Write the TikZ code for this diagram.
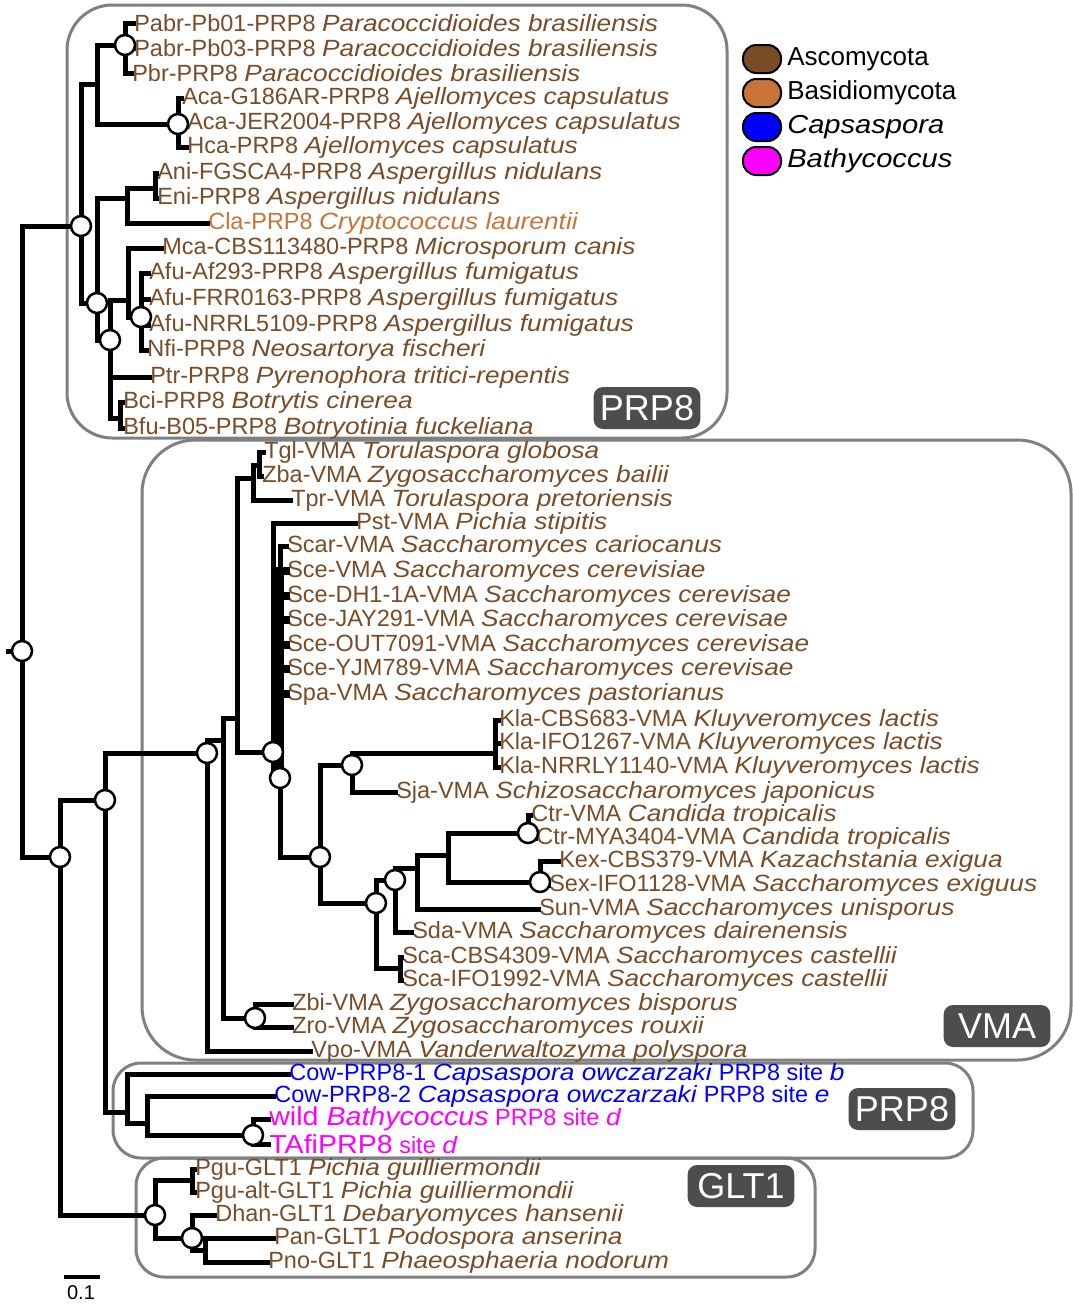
\documentclass[tikz,border=0pt]{standalone}
\usepackage{fontspec}
\setmainfont{Liberation Sans}[ItalicFeatures={FakeStretch=1.12}]
\newfontfamily\widesans{Liberation Sans}[FakeStretch=1.1]
\definecolor{asco}{RGB}{122,76,38}
\definecolor{basid}{RGB}{200,116,56}
\definecolor{capsa}{RGB}{0,0,255}
\definecolor{bathy}{RGB}{255,0,255}
\definecolor{frame}{RGB}{128,128,128}
\definecolor{tagc}{RGB}{77,77,77}

\begin{document}
\begin{tikzpicture}[x=0.75pt, y=-0.75pt,
	tree/.style={line width=3.75pt, line cap=rect, line join=miter},
	bundle/.style={tree, line width=5.5pt},
	bs/.style={circle, draw, fill=white, line width=1.9pt, minimum size=15pt, inner sep=0pt},
	lab/.style={inner sep=0.8pt, anchor=west, font=\fontsize{17.6}{20}\selectfont},
	big/.style={font=\fontsize{19.5}{21}\widesans},
	group/.style={draw=frame, line width=2.25pt},
	tag/.style={fill=tagc, text=white, rounded corners=7pt, minimum width=80pt, minimum height=31.5pt, inner sep=2pt, font=\fontsize{27}{30}\selectfont},
	key/.style={draw, line width=1.5pt, rounded corners=10pt, minimum width=28.5pt, minimum height=21pt, inner sep=0pt},
	keytext/.style={anchor=west, inner sep=0pt, font=\fontsize{19.5}{22}\selectfont}]

% Just a workaround to keep the margins of the figure
\fill[white] (0,0) rectangle (1073,1304);
\useasboundingbox (0,0) rectangle (1073,1304);

% Group frames
\draw[group, rounded corners=34pt] (67,5) rectangle (727,438);
\draw[group, rounded corners=40pt] (142,440) rectangle (1071,1060);
\draw[group, rounded corners=21pt] (113,1063) rectangle (973,1158);
\draw[group, rounded corners=21pt] (136,1158) rectangle (815,1277);

% Macros
\newcommand{\clade}[2]{
	\coordinate (#1) at (#2);
}
\newcommand{\taxon}[4]{
	\node[lab, text=#4] (#1) at (#2) {#3};
}
\newcommand{\branch}[2]{
	\draw[tree] (#1) |- (#2);
}
\newcommand{\leaf}[2]{
	\draw[tree] (#1) |- (#2.west);
}
\newcommand{\boot}[1]{
	\node[bs] (#1-bs) at (#1) {};
}

% Inner nodes
\clade {R0}  {22,651}
\clade {R0s} {8,651}
\clade {A}   {81,226}
\clade {A1}  {97,84}
\clade {Pb}  {125,45}
\clade {Aj}  {178,124}
\clade {B}   {97,303}
\clade {C}   {127,198}
\clade {C1}  {155,188}
\clade {D}   {110,340}
\clade {E}   {128,300}
\clade {F}   {141,317}
\clade {Bo}  {120,418}
\clade {G}   {60,857}
\clade {H}   {105,800}
\clade {I}   {207,753}
\clade {J}   {223,740}
\clade {K}   {237,718}
\clade {Tz}  {253,478}
\clade {Tg}  {259,465}
\clade {L}   {273,752}
\clade {M}   {280,778}
\clade {N}   {320,857}
\clade {O}   {352,765}
\clade {Kl}  {495,753}
\clade {P}   {376,903}
\clade {Q}   {395,880}
\clade {Q1}  {417,868}
\clade {Q2}  {448,855}
\clade {Ct}  {528,833}
\clade {Kx}  {540,882}
\clade {Sc}  {400,968}
\clade {Zb}  {255,1018}
\clade {Pr}  {127,1112}
\clade {Pr2} {147,1123}
\clade {Bt}  {253,1135}
\clade {Gl}  {155,1215}
\clade {Pg}  {192,1180}
\clade {Rn}  {192,1238}
\clade {Rn2} {205,1250}

% Taxa
\taxon {l1}  {133,23}  {Pabr-Pb01-PRP8 \textit{Paracoccidioides brasiliensis}} {asco}
\taxon {l2}  {133,48}  {Pabr-Pb03-PRP8 \textit{Paracoccidioides brasiliensis}} {asco}
\taxon {l3}  {131,73}  {Pbr-PRP8 \textit{Paracoccidioides brasiliensis}} {asco}
\taxon {l4}  {181,98}  {Aca-G186AR-PRP8 \textit{Ajellomyces capsulatus}} {asco}
\taxon {l5}  {186,123} {Aca-JER2004-PRP8 \textit{Ajellomyces capsulatus}} {asco}
\taxon {l6}  {186,147} {Hca-PRP8 \textit{Ajellomyces capsulatus}} {asco}
\taxon {l7}  {156,173} {Ani-FGSCA4-PRP8 \textit{Aspergillus nidulans}} {asco}
\taxon {l8}  {156,198} {Eni-PRP8 \textit{Aspergillus nidulans}} {asco}
\taxon {l9}  {207,223} {Cla-PRP8 \textit{Cryptococcus laurentii}} {basid}
\taxon {l10} {161,248} {Mca-CBS113480-PRP8 \textit{Microsporum canis}} {asco}
\taxon {l11} {148,273} {Afu-Af293-PRP8 \textit{Aspergillus fumigatus}} {asco}
\taxon {l12} {148,299} {Afu-FRR0163-PRP8 \textit{Aspergillus fumigatus}} {asco}
\taxon {l13} {148,325} {Afu-NRRL5109-PRP8 \textit{Aspergillus fumigatus}} {asco}
\taxon {l14} {146,350} {Nfi-PRP8 \textit{Neosartorya fischeri}} {asco}
\taxon {l15} {149,377} {Ptr-PRP8 \textit{Pyrenophora tritici-repentis}} {asco}
\taxon {l16} {122,402} {Bci-PRP8 \textit{Botrytis cinerea}} {asco}
\taxon {l17} {122,428} {Bfu-B05-PRP8 \textit{Botryotinia fuckeliana}} {asco}

\taxon {v1}  {263,452}  {Tgl-VMA \textit{Torulaspora globosa}} {asco}
\taxon {v2}  {261,476}  {Zba-VMA \textit{Zygosaccharomyces bailii}} {asco}
\taxon {v3}  {290,500}  {Tpr-VMA \textit{Torulaspora pretoriensis}} {asco}
\taxon {v4}  {355,523}  {Pst-VMA \textit{Pichia stipitis}} {asco}
\taxon {v5}  {286,546}  {Scar-VMA \textit{Saccharomyces cariocanus}} {asco}
\taxon {v6}  {286,571}  {Sce-VMA \textit{Saccharomyces cerevisiae}} {asco}
\taxon {v7}  {286,596}  {Sce-DH1-1A-VMA \textit{Saccharomyces cerevisae}} {asco}
\taxon {v8}  {286,620}  {Sce-JAY291-VMA \textit{Saccharomyces cerevisae}} {asco}
\taxon {v9}  {286,645}  {Sce-OUT7091-VMA \textit{Saccharomyces cerevisae}} {asco}
\taxon {v10} {286,669}  {Sce-YJM789-VMA \textit{Saccharomyces cerevisae}} {asco}
\taxon {v11} {286,694}  {Spa-VMA \textit{Saccharomyces pastorianus}} {asco}
\taxon {v12} {498,720}  {Kla-CBS683-VMA \textit{Kluyveromyces lactis}} {asco}
\taxon {v13} {498,743}  {Kla-IFO1267-VMA \textit{Kluyveromyces lactis}} {asco}
\taxon {v14} {498,767}  {Kla-NRRLY1140-VMA \textit{Kluyveromyces lactis}} {asco}
\taxon {v15} {395,792}  {Sja-VMA \textit{Schizosaccharomyces japonicus}} {asco}
\taxon {v16} {530,815}  {Ctr-VMA \textit{Candida tropicalis}} {asco}
\taxon {v17} {535,838}  {Ctr-MYA3404-VMA \textit{Candida tropicalis}} {asco}
\taxon {v18} {558,861}  {Kex-CBS379-VMA \textit{Kazachstania exigua}} {asco}
\taxon {v19} {548,885}  {Sex-IFO1128-VMA \textit{Saccharomyces exiguus}} {asco}
\taxon {v20} {538,909}  {Sun-VMA \textit{Saccharomyces unisporus}} {asco}
\taxon {v21} {411,932}  {Sda-VMA \textit{Saccharomyces dairenensis}} {asco}
\taxon {v22} {401,957}  {Sca-CBS4309-VMA \textit{Saccharomyces castellii}} {asco}
\taxon {v23} {401,980}  {Sca-IFO1992-VMA \textit{Saccharomyces castellii}} {asco}
\taxon {v24} {291,1004} {Zbi-VMA \textit{Zygosaccharomyces bisporus}} {asco}
\taxon {v25} {291,1027} {Zro-VMA \textit{Zygosaccharomyces rouxii}} {asco}
\taxon {v26} {310,1051} {Vpo-VMA \textit{Vanderwaltozyma polyspora}} {asco}

\taxon {p1} {288,1074} {Cow-PRP8-1 \textit{Capsaspora owczarzaki} PRP8 site \textit{b}} {capsa}
\taxon {p2} {273,1096} {Cow-PRP8-2 \textit{Capsaspora owczarzaki} PRP8 site \textit{e}} {capsa}
\taxon {p3} {268,1119} {{\fontsize{19.5}{21}\widesans wild \itshape Bathycoccus} PRP8 site \textit{d}} {bathy}
\taxon {p4} {268,1144} {{\fontsize{19.5}{21}\widesans TAfiPRP8} site \textit{d}} {bathy}

\taxon {g1} {194,1169} {Pgu-GLT1 \textit{Pichia guilliermondii}} {asco}
\taxon {g2} {194,1192} {Pgu-alt-GLT1 \textit{Pichia guilliermondii}} {asco}
\taxon {g3} {214,1215} {Dhan-GLT1 \textit{Debaryomyces hansenii}} {asco}
\taxon {g4} {273,1238} {Pan-GLT1 \textit{Podospora anserina}} {asco}
\taxon {g5} {267,1262} {Pno-GLT1 \textit{Phaeosphaeria nodorum}} {asco}

% Branches
\draw[tree] (R0) -- (R0s);
\branch {R0} {A}   \branch {R0} {G}
\branch {A}  {A1}  \branch {A}  {B}
\branch {A1} {Pb}  \branch {A1} {Aj}
\leaf {Pb} {l1} \leaf {Pb} {l2} \leaf {Pb} {l3}
\leaf {Aj} {l4} \leaf {Aj} {l5} \leaf {Aj} {l6}
\branch {B}  {C}   \branch {B}  {D}
\branch {C}  {C1}  \leaf {C} {l9}
\leaf {C1} {l7} \leaf {C1} {l8}
\branch {D}  {E}   \leaf {D} {l15}  \branch {D} {Bo}
\leaf {E} {l10}    \branch {E} {F}
\leaf {F} {l11} \leaf {F} {l12} \leaf {F} {l13} \leaf {F} {l14}
\leaf {Bo} {l16} \leaf {Bo} {l17}

\branch {G}  {H}   \branch {G}  {Gl}
\branch {H}  {I}   \branch {H}  {Pr}
\branch {I}  {J}   \leaf {I} {v26}
\branch {J}  {K}   \branch {J}  {Zb}
\branch {K}  {Tz}  \branch {K}  {L}
\branch {Tz} {Tg}  \leaf {Tz} {v3}
\leaf {Tg} {v1} \leaf {Tg} {v2}
\leaf {L} {v4}     \branch {L} {M}
\leaf {M} {v5}
\foreach \t in {v6,v7,v8,v9,v10,v11}
	{\draw[bundle] (M) |- (\t.west);}
\branch {M}  {N}
\branch {N}  {O}   \branch {N}  {P}
\branch {O}  {Kl}  \leaf {O} {v15}
\leaf {Kl} {v12} \leaf {Kl} {v13} \leaf {Kl} {v14}
\branch {P}  {Q}   \branch {P}  {Sc}
\branch {Q}  {Q1}  \leaf {Q} {v21}
\branch {Q1} {Q2}  \leaf {Q1} {v20}
\branch {Q2} {Ct}  \branch {Q2} {Kx}
\leaf {Ct} {v16} \leaf {Ct} {v17}
\leaf {Kx} {v18} \leaf {Kx} {v19}
\leaf {Sc} {v22} \leaf {Sc} {v23}
\leaf {Zb} {v24} \leaf {Zb} {v25}
\leaf {Pr} {p1}    \branch {Pr} {Pr2}
\leaf {Pr2} {p2}   \branch {Pr2} {Bt}
\leaf {Bt} {p3} \leaf {Bt} {p4}
\branch {Gl} {Pg}  \branch {Gl} {Rn}
\leaf {Pg} {g1} \leaf {Pg} {g2}
\leaf {Rn} {g3}    \branch {Rn} {Rn2}
\leaf {Rn2} {g4} \leaf {Rn2} {g5}

% Bootstrap circles
\foreach \n in {R0,A,Pb,Aj,B,D,F,G,H,I,L,M,N,O,P,Q,Ct,Kx,Zb,Bt,Gl,Rn}
	{\boot{\n}}

% Group tags
\node[tag] (tprp8a) at (647,408)  {PRP8};
\node[tag] (tvma)   at (997,1026) {VMA};
\node[tag] (tprp8b) at (902,1109) {PRP8};
\node[tag] (tglt1)  at (741,1186) {GLT1};

% Legend
\node[key, fill=asco]  (k1) at (762,59)  {};
\node[key, fill=basid] (k2) at (762,93)  {};
\node[key, fill=capsa] (k3) at (762,127) {};
\node[key, fill=bathy] (k4) at (762,161) {};
\node[keytext] (kt1) at (787,59)  {Ascomycota};
\node[keytext] (kt2) at (787,93)  {Basidiomycota};
\node[keytext] (kt3) at (787,127) {\textit{Capsaspora}};
\node[keytext] (kt4) at (787,161) {\textit{Bathycoccus}};

% Scale bar
\coordinate (sb1) at (64,1277);
\coordinate (sb2) at (100,1277);
\draw[line width=3pt] (sb1) -- (sb2);
\node[font=\fontsize{15}{17}\selectfont, inner sep=0pt] (sbl) at (81,1293) {0.1};
\end{tikzpicture}
\end{document}
